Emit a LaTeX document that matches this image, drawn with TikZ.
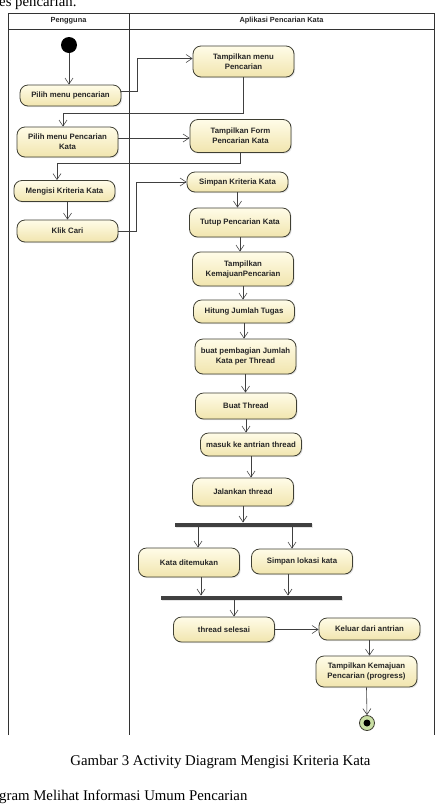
\documentclass[tikz,border=0pt]{standalone}
\usepackage{fontspec}
\setmainfont{Liberation Serif}
\newfontfamily\diagfont{Liberation Sans}
\usetikzlibrary{arrows.meta,shadows}
\definecolor{acttop}{HTML}{FFFCE8}
\definecolor{actbot}{HTML}{F1E5AE}
\definecolor{actline}{HTML}{3F3F33}
\definecolor{endfill}{HTML}{C9DFA3}

\begin{document}
\begin{tikzpicture}[x=1pt, y=-1pt,
                act/.style={rectangle, draw=actline, line width=0.8pt, rounded corners=8pt,
                top color=acttop, bottom color=actbot, minimum width=101pt, inner sep=1pt,
                align=center, text=black!85, font=\diagfont\bfseries\fontsize{7.8}{10}\selectfont,
                drop shadow={shadow xshift=1.2pt, shadow yshift=-1.2pt, opacity=0.2}},
                bar/.style={rectangle, fill=black!75, inner sep=0pt, minimum height=4.5pt,
                drop shadow={shadow xshift=1pt, shadow yshift=-1pt, opacity=0.2}},
                lane/.style={draw=black!80, line width=0.8pt},
                head/.style={font=\diagfont\bfseries\fontsize{7.4}{8}\selectfont, text=black!85},
                flow/.style={-{Straight Barb[length=6pt,width=8pt]}, draw=black!75, line width=0.6pt},
                caption/.style={font=\fontsize{14.8}{17}\selectfont, inner sep=0pt}
            ]
        \fill[white] (0,0) rectangle (438,804);
        \useasboundingbox (0,0) rectangle (438,804);

        \draw[lane] (8,735) -- (8,13) -- (434,13) -- (434,735);
        \draw[lane] (8,29) -- (434,29);
        \draw[lane] (129,13) -- (129,735);
        \node[head] (pengguna) at (68.5,21)  {Pengguna};
        \node[head] (aplikasi) at (281.5,21) {Aplikasi Pencarian Kata};

        \node[circle, fill=black, minimum size=16pt, inner sep=0pt] (start) at (69,45) {};
        \node[act, minimum height=21pt] (pilih1)    at (70.5,95.5)  {Pilih menu pencarian};
        \node[act, minimum height=31pt] (tmenu)     at (243.5,61.5) {Tampilkan menu\\Pencarian};
        \node[act, minimum height=30pt] (pilih2)    at (67.5,142)   {Pilih menu Pencarian\\Kata};
        \node[act, minimum height=33pt] (tform)     at (240.5,136)  {Tampilkan Form\\Pencarian Kata};
        \node[act, minimum height=21pt] (isi)       at (64.5,191)   {Mengisi Kriteria Kata};
        \node[act, minimum height=22pt] (klik)      at (67.5,231)   {Klik Cari};
        \node[act, minimum height=20pt] (simpan)    at (237.5,182)  {Simpan Kriteria Kata};
        \node[act, minimum height=29pt] (tutup)     at (240,222.5)  {Tutup Pencarian Kata};
        \node[act, minimum height=34pt] (tkemajuan) at (243,269)    {Tampilkan\\KemajuanPencarian};
        \node[act, minimum height=23pt] (hitung)    at (244,311.5)  {Hitung Jumlah Tugas};
        \node[act, minimum height=35pt] (bagi)      at (245.5,356.5){buat pembagian Jumlah\\Kata per Thread};
        \node[act, minimum height=26pt] (bthread)   at (246,406)    {Buat Thread};
        \node[act, minimum height=23pt] (masuk)     at (251,444.5)  {masuk ke antrian thread};
        \node[act, minimum height=28pt] (jalankan)  at (243,492)    {Jalankan thread};
        \node[bar, minimum width=137pt] (fork)      at (243.5,525)  {};
        \node[act, minimum height=29pt] (kata)      at (189,562.5)  {Kata ditemukan};
        \node[act, minimum height=25pt] (simpanlok) at (302,561.5)  {Simpan lokasi kata};
        \node[bar, minimum width=181pt] (join)      at (251.5,598)  {};
        \node[act, minimum height=25pt] (selesai)   at (224,629.5)  {thread selesai};
        \node[act, minimum height=22pt] (keluar)    at (369.5,629)  {Keluar dari antrian};
        \node[act, minimum height=31pt] (tprogress) at (366.5,671.5){Tampilkan Kemajuan\\Pencarian (progress)};
        \node[circle, draw=actline, fill=endfill, line width=0.8pt, minimum size=15pt, inner sep=0pt] (stop) at (367,723) {};
        \node[circle, fill=black, minimum size=7pt, inner sep=0pt] (stopdot) at (stop) {};

        \draw[flow] (start) -- (start |- pilih1.north);
        \draw[flow] ([yshift=4pt]pilih1.east) -- ++(16,0) |- ([yshift=3pt]tmenu.west);
        \draw[flow] (tmenu.south) -- ++(0,36) -| ([xshift=-4.5pt]pilih2.north);
        \draw[flow] ([yshift=4pt]pilih2.east) -- ([yshift=4pt]pilih2.east -| tform.west);
        \draw[flow] (tform.south) -- ++(0,10) -| ([xshift=-7.5pt]isi.north);
        \draw[flow] (isi.south -| klik) -- (klik.north);
        \draw[flow] (klik.east) -- ++(18,0) |- (simpan.west);
        \draw[flow] (simpan.south)    -- (simpan.south |- tutup.north);
        \draw[flow] (tutup.south)     -- (tutup.south |- tkemajuan.north);
        \draw[flow] (tkemajuan.south) -- (tkemajuan.south |- hitung.north);
        \draw[flow] (hitung.south)    -- (hitung.south |- bagi.north);
        \draw[flow] (bagi.south)      -- (bagi.south |- bthread.north);
        \draw[flow] (bthread.south)   -- (bthread.south |- masuk.north);
        \draw[flow] (masuk.south)     -- (masuk.south |- jalankan.north);
        \draw[flow] (jalankan.south)  -- (jalankan.south |- fork.north);
        \draw[flow] ([xshift=9pt]kata.north |- fork.south) -- ([xshift=9pt]kata.north);
        \draw[flow] ([xshift=-10pt]simpanlok.north |- fork.south) -- ([xshift=-10pt]simpanlok.north);
        \draw[flow] ([xshift=12pt]kata.south) -- ([xshift=12pt]kata.south |- join.north);
        \draw[flow] ([xshift=-14pt]simpanlok.south) -- ([xshift=-14pt]simpanlok.south |- join.north);
        \draw[flow] ([xshift=10pt]selesai.north |- join.south) -- ([xshift=10pt]selesai.north);
        \draw[flow] (selesai.east) -- (selesai.east -| keluar.west);
        \draw[flow] (keluar.south) -- (keluar.south |- tprogress.north);
        \draw[flow] (tprogress.south) -- (stop.north);

        \node[caption, anchor=base west] (prevtext) at (-1,6)     {es pencarian.};
        \node[caption, anchor=base]      (figcap)   at (220.5,765) {Gambar 3 Activity Diagram Mengisi Kriteria Kata};
        \node[caption, anchor=base west] (nexttext) at (-1,800)   {gram Melihat Informasi Umum Pencarian};
            \end{tikzpicture}
\end{document}
